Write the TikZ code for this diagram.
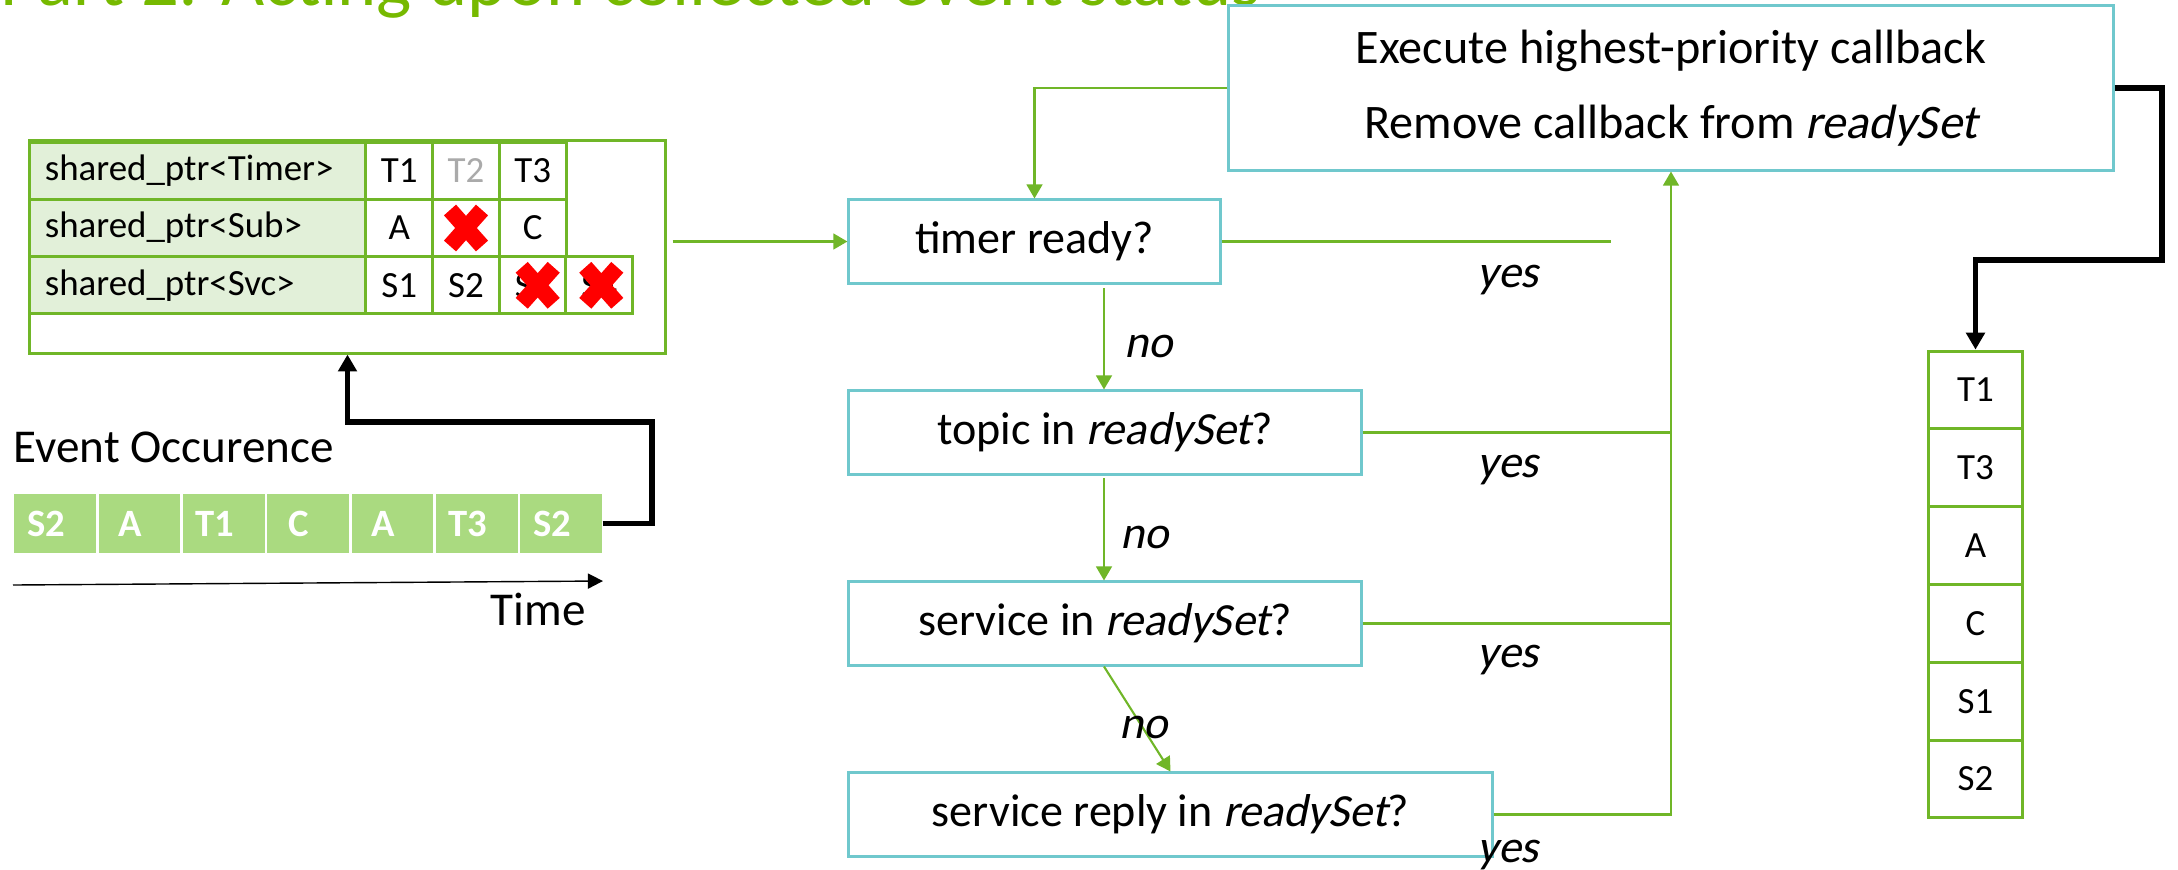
\documentclass[tikz,border=0pt]{standalone}
\usepackage{fontspec}
\setmainfont{Carlito}[ItalicFont=Carlito, ItalicFeatures={FakeSlant=0.2}]
\usetikzlibrary{arrows.meta}

\definecolor{titlegreen}{RGB}{118,185,0}
\definecolor{lgreen}{RGB}{112,182,40}
\definecolor{tealbox}{RGB}{112,200,205}
\definecolor{cellfill}{RGB}{226,240,217}
\definecolor{evfill}{RGB}{170,218,128}
\definecolor{fadedgray}{RGB}{170,170,170}
\definecolor{xred}{RGB}{255,0,0}

% red cross drawn over a cell
\newcommand\crossout[2][0]{%
  \draw[xred, line width=4.6pt, shift={(#2)}, xshift=#1*0.01cm]
    (-16,-18) -- (16,18) (-16,18) -- (16,-18);}
% event label, set a little left of the cell centre
\newcommand\evtext[1]{#1\hspace*{0.18cm}}

\begin{document}
\begin{tikzpicture}[x=0.01cm, y=-0.01cm,
  flowbox/.style={draw=tealbox, line width=0.85pt, minimum height=0.83cm,
    inner sep=0pt, font=\fontsize{13.1}{15.7}\selectfont},
  tblbox/.style={draw=lgreen, line width=0.85pt, inner sep=0pt},
  lblcell/.style={draw=lgreen, fill=cellfill, line width=0.85pt,
    text width=3.06cm, align=left, inner xsep=0.15cm, inner ysep=0pt,
    minimum height=0.573cm, font=\fontsize{10.5}{12.6}\selectfont},
  valcell/.style={draw=lgreen, fill=white, line width=0.85pt, inner sep=0pt,
    minimum width=0.667cm, minimum height=0.573cm,
    font=\fontsize{10.5}{12.6}\selectfont},
  stackcell/.style={draw=lgreen, line width=0.85pt, inner sep=0pt,
    minimum width=0.93cm, minimum height=0.778cm,
    font=\fontsize{10.5}{12.6}\selectfont},
  evcell/.style={fill=evfill, inner sep=0pt, minimum width=0.817cm,
    minimum height=0.59cm, text=white, font=\fontsize{11}{13}\selectfont\bfseries},
  plain/.style={inner sep=0pt, anchor=base west, font=\fontsize{13.4}{16}\selectfont},
  answer/.style={inner sep=0pt, anchor=base west, font=\fontsize{13.1}{15.7}\selectfont\itshape},
  gline/.style={draw=lgreen, line width=0.6pt},
  garrow/.style={gline, -{Triangle[length=4pt, width=4.5pt]}},
  barrow/.style={draw=black, line width=1.5pt, -{Triangle[length=4.8pt, width=5.2pt]}},
  tarrow/.style={draw=black, line width=0.4pt, -{Triangle[length=4.3pt, width=4.3pt]}}
]
\useasboundingbox (0,0) rectangle (2178,869);

% heading, mostly above the page edge
\node[anchor=base west, inner sep=0, text=titlegreen,
  font=\fontsize{21.2}{25}\selectfont] (title) at (0,5)
  {Part 2: Acting upon collected event status};

% ---- collected handles ----
\node[tblbox, minimum width=6.35cm, minimum height=2.12cm] (tbl) at (347.5,247) {};
\node[lblcell] (l1) at (198,170.7) {shared\_ptr<Timer>};
\node[lblcell] (l2) at (198,228) {shared\_ptr<Sub>};
\node[lblcell] (l3) at (198,285.3) {shared\_ptr<Svc>};

\node[valcell] (v11) at (399.3,170.7) {T1};
\node[valcell, text=fadedgray] (v12) at (466,170.7) {T2};
\node[valcell] (v13) at (532.7,170.7) {T3};

\node[valcell] (v21) at (399.3,228) {A};
\node[valcell] (v22) at (466,228) {};
\node[valcell] (v23) at (532.7,228) {C};

\node[valcell] (v31) at (399.3,285.3) {S1};
\node[valcell] (v32) at (466,285.3) {S2};
\node[valcell] (v33) at (532.7,285.3) {S3};
\node[valcell] (v34) at (599.3,285.3) {S4};

\crossout{v22}
\crossout[5]{v33}
\crossout[2]{v34}

% ---- event stream ----
\node[plain] (evtitle) at (13,462) {Event Occurence};
\node[evcell] (e1) at (55.2,523.5) {\evtext{S2}};
\node[evcell] (e2) at (139.5,523.5) {\evtext{A}};
\node[evcell] (e3) at (223.8,523.5) {\evtext{T1}};
\node[evcell] (e4) at (308.1,523.5) {\evtext{C}};
\node[evcell] (e5) at (392.4,523.5) {\evtext{A}};
\node[evcell] (e6) at (476.7,523.5) {\evtext{T3}};
\node[evcell] (e7) at (561,523.5) {\evtext{S2}};

\coordinate (tstart) at (13,585);
\coordinate (tend) at (603,581);
\draw[tarrow] (tstart) -- (tend);
\node[plain] (timelbl) at (490,625) {Time};

\coordinate (evbend) at (652,422);
\draw[barrow] (e7.east) -| (evbend) -| (tbl.south);

% ---- decision chain ----
\node[flowbox, minimum width=8.84cm, minimum height=1.64cm, align=center,
  font=\fontsize{13.7}{21.3}\selectfont] (exec) at (1671,88)
  {Execute highest-priority callback\\Remove callback from \textit{readySet}};
\node[flowbox, minimum width=3.71cm] (timer) at (1034.5,241.5) {timer ready?};
\node[flowbox, minimum width=5.12cm] (topic) at (1105,432.5) {topic in \textit{readySet}?};
\node[flowbox, minimum width=5.12cm] (service) at (1105,623.5) {service in \textit{readySet}?};
\node[flowbox, minimum width=6.43cm] (reply) at (1170.5,814.5) {service reply in \textit{readySet}?};

\draw[garrow] ([xshift=0.06cm]tbl.east |- timer.west) -- (timer.west);
\draw[garrow] (exec.west) -| (timer.north);

\coordinate (no1) at (1104,288);
\coordinate (no2) at (1104,478);
\draw[garrow] (no1) -- (no1 |- topic.north);
\draw[garrow] (no2) -- (no2 |- service.north);
\draw[garrow] ([xshift=-0.01cm]service.south) -- (reply.north);

\coordinate (timeryes) at (1611,241.5);
\draw[gline] (timer.east) -- (timeryes);
\draw[gline] (topic.east) -- (topic.east -| exec.south);
\draw[gline] (service.east) -- (service.east -| exec.south);
\draw[garrow] (reply.east) -| (exec.south);

\node[answer] (y1) at (1477,287) {yes};
\node[answer] (y2) at (1477,477) {yes};
\node[answer] (y3) at (1477,667) {yes};
\node[answer] (y4) at (1477,862) {yes};
\node[answer] (n1) at (1124,357) {no};
\node[answer] (n2) at (1120,548) {no};
\node[answer] (n3) at (1119,738) {no};

% ---- ordered callbacks ----
\node[stackcell] (s1) at (1975.5,390) {T1};
\node[stackcell] (s2) at (1975.5,467.8) {T3};
\node[stackcell] (s3) at (1975.5,545.6) {A};
\node[stackcell] (s4) at (1975.5,623.4) {C};
\node[stackcell] (s5) at (1975.5,701.2) {S1};
\node[stackcell] (s6) at (1975.5,779) {S2};

\coordinate (stbend) at (2162,260);
\draw[barrow] (exec.east) -| (stbend) -| (s1.north);
\end{tikzpicture}
\end{document}
